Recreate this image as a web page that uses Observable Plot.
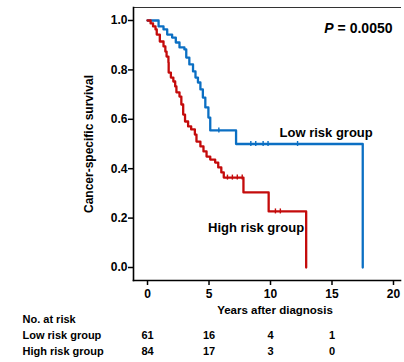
<!DOCTYPE html>
<html><head><meta charset="utf-8">
<script src="https://cdn.jsdelivr.net/npm/d3@7"></script>
<script src="https://cdn.jsdelivr.net/npm/@observablehq/plot@0.6"></script>
<style>html,body{margin:0;padding:0;background:#fff;} svg{display:block;}</style>
</head><body><div id="chart"></div>
<script>
const groups = ["Low risk group", "High risk group"];
const colors = ["#0b6fc3", "#c40b0b"];

// Kaplan-Meier steps (time in years, survival after the step)
const lowTime = [0, 0.9, 1.3, 1.6, 2.0, 2.3, 2.6, 3.0, 3.15, 3.4, 3.7, 3.9, 4.1, 4.3, 4.5, 4.7, 4.95, 5.1, 7.2, 17.5];
const lowSurv = [1.0, 0.976, 0.964, 0.943, 0.931, 0.911, 0.891, 0.883, 0.85, 0.822, 0.794, 0.769, 0.749, 0.721, 0.688, 0.648, 0.607, 0.555, 0.5, 0.0];
const highTime = [0, 0.25, 0.45, 0.65, 0.75, 1.0, 1.3, 1.45, 1.55, 1.7, 1.72, 1.9, 2.1, 2.25, 2.35, 2.6, 2.75, 2.9, 3.05, 3.3, 3.55, 3.85, 3.98, 4.3, 4.55, 4.8, 5.1, 5.5, 5.75, 6.0, 6.2, 7.8, 9.85, 12.9];
const highSurv = [1.0, 0.988, 0.976, 0.964, 0.943, 0.915, 0.895, 0.874, 0.854, 0.83, 0.789, 0.769, 0.753, 0.733, 0.709, 0.692, 0.66, 0.619, 0.591, 0.571, 0.559, 0.538, 0.51, 0.49, 0.47, 0.449, 0.437, 0.425, 0.405, 0.385, 0.364, 0.304, 0.227, 0.0];

// censoring marks (times)
const lowCensor = [5.8, 8.4, 8.8, 9.4, 9.8, 12.2];
const highCensor = [6.5, 6.9, 7.3, 7.7, 10.4, 10.8];

// number at risk table
const atRiskTimes = [0, 5, 10, 15];
const lowAtRisk = [61, 16, 4, 1];
const highAtRisk = [84, 17, 3, 0];

const xTicks = [0, 5, 10, 15, 20];
const yTicks = [0, 0.2, 0.4, 0.6, 0.8, 1.0];
const pLabel = "0.0050";

function stepAt(times, surv, t) {
  const i = d3.bisectRight(times, t) - 1;
  return surv[Math.max(0, i)];
}

const curve = [];
lowTime.forEach((t, i) => curve.push({group: groups[0], t, s: lowSurv[i]}));
highTime.forEach((t, i) => curve.push({group: groups[1], t, s: highSurv[i]}));

const censor = [
  ...lowCensor.map(t => ({group: groups[0], t, s: stepAt(lowTime, lowSurv, t)})),
  ...highCensor.map(t => ({group: groups[1], t, s: stepAt(highTime, highSurv, t)}))
];

const lowRisk = atRiskTimes.map((t, i) => ({t, n: lowAtRisk[i]}));
const highRisk = atRiskTimes.map((t, i) => ({t, n: highAtRisk[i]}));

const lowLabel = [{t: lowTime[lowTime.length - 1], s: lowSurv[lowSurv.length - 2], text: groups[0]}];
const highLabel = [{t: highTime[highTime.length - 1], s: highSurv[highSurv.length - 2], text: groups[1]}];

const font = "'Liberation Sans', Arial, sans-serif";

const chart = Plot.plot({
  width: 404,
  height: 362,
  marginLeft: 133,
  marginRight: 4,
  marginTop: 7,
  marginBottom: 82,
  style: {fontFamily: font, fontWeight: "bold", fontSize: "12px", color: "#000", background: "#fff"},
  x: {domain: [-1.14, 20.57]},
  y: {domain: [-0.0526, 1.0526]},
  color: {domain: groups, range: colors},
  marks: [
    Plot.frame({anchor: "top", stroke: "#333", strokeWidth: 1}),
    Plot.frame({anchor: "left", stroke: "#000", strokeWidth: 1.6}),
    Plot.frame({anchor: "bottom", stroke: "#000", strokeWidth: 1.6}),
    Plot.axisY({ticks: yTicks, tickSize: 5, tickPadding: 1, tickFormat: d3.format(".1f"), label: null, strokeWidth: 1.5, fontSize: 12}),
    Plot.axisX({ticks: xTicks, tickSize: 5, tickPadding: 4, label: null, strokeWidth: 1.5, fontSize: 12}),
    Plot.line(curve, {x: "t", y: "s", z: "group", stroke: "group", curve: "step-after", strokeWidth: 2.3}),
    Plot.ruleX(censor, {x: "t", y1: "s", y2: "s", stroke: "group", insetTop: -2.5, insetBottom: -2.5, strokeWidth: 1.4}),
    Plot.text(lowLabel, {x: "t", y: "s", text: "text", textAnchor: "end", dx: 10, dy: -11, fontSize: 13}),
    Plot.text(highLabel, {x: "t", y: "s", text: "text", textAnchor: "end", dx: -2, dy: 16, fontSize: 13}),
    Plot.text(["= " + pLabel], {frameAnchor: "top-right", textAnchor: "end", dx: -8, dy: 16, fontSize: 14}),
    Plot.text(["P"], {frameAnchor: "top-right", textAnchor: "end", dx: -67, dy: 16, fontSize: 14, fontStyle: "italic"}),
    Plot.text(["Cancer-specific survival"], {frameAnchor: "left", textAnchor: "middle", rotate: -90, dx: -44, fontSize: 12}),
    Plot.text(["Years after diagnosis"], {frameAnchor: "bottom", dx: 8, dy: 33, fontSize: 11.5}),
    Plot.text(["No. at risk"], {frameAnchor: "bottom-left", textAnchor: "start", dx: -111, dy: 42, fontSize: 11}),
    Plot.text([groups[0]], {frameAnchor: "bottom-left", textAnchor: "start", dx: -111, dy: 58, fontSize: 11}),
    Plot.text([groups[1]], {frameAnchor: "bottom-left", textAnchor: "start", dx: -111, dy: 74, fontSize: 11}),
    Plot.text(lowRisk, {x: "t", text: "n", frameAnchor: "bottom", dy: 58, fontSize: 11}),
    Plot.text(highRisk, {x: "t", text: "n", frameAnchor: "bottom", dy: 74, fontSize: 11})
  ]
});
document.getElementById("chart").append(chart);
</script>
</body></html>
